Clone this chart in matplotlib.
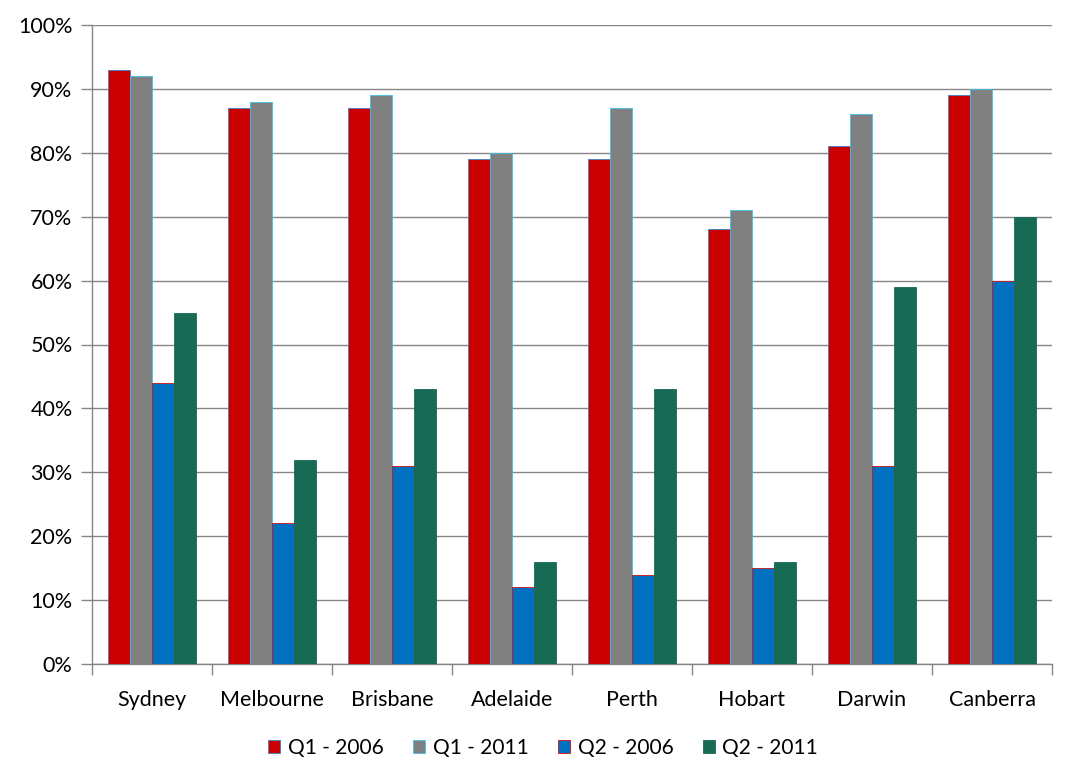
import matplotlib
matplotlib.use("Agg")
import matplotlib.pyplot as plt
import numpy as np

cities = ["Sydney", "Melbourne", "Brisbane", "Adelaide", "Perth", "Hobart", "Darwin", "Canberra"]
series_names = ["Q1 - 2006", "Q1 - 2011", "Q2 - 2006", "Q2 - 2011"]
q1_2006 = [93, 87, 87, 79, 79, 68, 81, 89]
q1_2011 = [92, 88, 89, 80, 87, 71, 86, 90]
q2_2006 = [44, 22, 31, 12, 14, 15, 31, 60]
q2_2011 = [55, 32, 43, 16, 43, 16, 59, 70]
yticks = [0, 10, 20, 30, 40, 50, 60, 70, 80, 90, 100]

plt.rcParams['font.family'] = ['Lato', 'DejaVu Sans']

fig = plt.figure(figsize=(10.77, 7.83), dpi=100)
ax = fig.add_axes([92/1077, 1 - 664/783, (1052-92)/1077, (664-25)/783])

values = [q1_2006, q1_2011, q2_2006, q2_2011]
colors = ["#CC0000", "#808080", "#0070C0", "#176B55"]
edges = ["#3A7FC8", "#3EC0E8", "#CC1010", "#176B55"]
w = 22/120
x = np.arange(len(cities))
for i, (vals, c, e, name) in enumerate(zip(values, colors, edges, series_names)):
    ax.bar(x + (i - 1.5) * w, vals, width=w, color=c, edgecolor=e, linewidth=0.6,
           label=name, zorder=3)

ax.set_xlim(-0.5, len(cities) - 0.5)
ax.set_ylim(0, 100)
ax.set_yticks(yticks)
ax.set_yticklabels([f"{v}%" for v in yticks], fontsize=15.5)
ax.yaxis.grid(True, color="#868686", linewidth=1, zorder=0)
ax.set_axisbelow(True)

ax.set_xticks(x)
ax.set_xticklabels(cities, fontsize=15.5)
ax.tick_params(axis='x', which='major', length=0, pad=19)
ax.set_xticks(np.arange(-0.5, len(cities)), minor=True)
ax.tick_params(axis='x', which='minor', length=8, color="#868686", width=1)
ax.tick_params(axis='y', length=8, color="#868686", width=1, pad=6)

for s in ["top", "right"]:
    ax.spines[s].set_visible(False)
for s in ["left", "bottom"]:
    ax.spines[s].set_color("#868686")
    ax.spines[s].set_linewidth(1)

leg = fig.legend(loc="center", bbox_to_anchor=(543/1077, 1 - 748/783), ncol=4,
                 frameon=False, fontsize=15, handlelength=0.58, handleheight=0.58,
                 handletextpad=0.38, columnspacing=1.4)

fig.savefig("out.png", dpi=100)
